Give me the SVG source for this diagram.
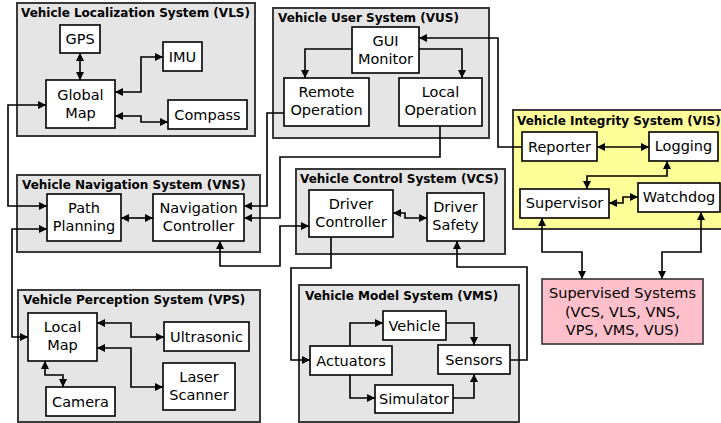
<svg xmlns="http://www.w3.org/2000/svg" width="721" height="423" viewBox="0 0 721 423">
  <style>
    .sys { fill: #e5e5e5; stroke: #3a3a3a; stroke-width: 2; }
    .vis { fill: #ffff99; }
    .box { fill: #ffffff; stroke: #000000; stroke-width: 1.6; }
    .sup { fill: #ffc0cb; stroke: #333333; stroke-width: 1.6; }
    .title { font-family: "DejaVu Sans", sans-serif; font-weight: bold; font-size: 12px; fill: #000; }
    .lbl { font-family: "DejaVu Sans", sans-serif; font-size: 14.5px; fill: #000; text-anchor: middle; }
    .wire { fill: none; stroke: #000; stroke-width: 1.6; }
    .both { marker-start: url(#arrow); marker-end: url(#arrow); }
    .one { marker-end: url(#arrow); }
  </style>
  <defs>
    <marker id="arrow" viewBox="0 0 10 10" refX="10" refY="5" markerWidth="8" markerHeight="8" markerUnits="userSpaceOnUse" orient="auto-start-reverse">
      <path d="M0,0 L10,5 L0,10 z" fill="#000"/>
    </marker>
  </defs>

  <!-- subsystem frames -->
  <g id="vls">
    <rect class="sys" x="17" y="3" width="238" height="133"/>
    <text class="title" x="21" y="17">Vehicle Localization System (VLS)</text>
  </g>
  <g id="vus">
    <rect class="sys" x="273" y="8" width="216" height="130"/>
    <text class="title" x="278" y="22">Vehicle User System (VUS)</text>
  </g>
  <g id="vns">
    <rect class="sys" x="17" y="175" width="243" height="77"/>
    <text class="title" x="22" y="189">Vehicle Navigation System (VNS)</text>
  </g>
  <g id="vcs">
    <rect class="sys" x="296" y="169" width="209" height="85"/>
    <text class="title" x="300" y="183">Vehicle Control System (VCS)</text>
  </g>
  <g id="vis">
    <rect class="sys vis" x="513" y="110" width="220" height="119"/>
    <text class="title" x="517" y="125">Vehicle Integrity System (VIS)</text>
  </g>
  <g id="vps">
    <rect class="sys" x="18" y="290" width="242" height="132"/>
    <text class="title" x="23" y="304">Vehicle Perception System (VPS)</text>
  </g>
  <g id="vms">
    <rect class="sys" x="299" y="285" width="220" height="137"/>
    <text class="title" x="305" y="300">Vehicle Model System (VMS)</text>
  </g>

  <!-- connectors -->
  <g id="connectors">
    <path class="wire both" d="M80,53 V80"/>
    <path class="wire both" d="M115,92 H141 V57 H163"/>
    <path class="wire both" d="M115,116 H141 V122 H168"/>
    <path class="wire both" d="M46,105 H8 V206 H47"/>
    <path class="wire one" d="M352,49 H305 V78"/>
    <path class="wire one" d="M419,49 H462 V78"/>
    <path class="wire one" d="M522,147 H498 V38 H419"/>
    <path class="wire one" d="M284,113 H267 V206 H244"/>
    <path class="wire one" d="M440,126 V157 H280 V218 H244"/>
    <path class="wire both" d="M121,218 H153"/>
    <path class="wire both" d="M220,241 V266 H280 V226 H309"/>
    <path class="wire both" d="M47,229 H12 V337 H28"/>
    <path class="wire both" d="M393,213 H405 V218 H427"/>
    <path class="wire one" d="M331,237 V268 H291 V360 H310"/>
    <path class="wire one" d="M510,360 H527 V267 H457 V241"/>
    <path class="wire both" d="M597,147 H649"/>
    <path class="wire both" d="M667,161 V176 H587 V189"/>
    <path class="wire both" d="M609,203 H623 V197 H638"/>
    <path class="wire both" d="M542,218 V252 H582 V279"/>
    <path class="wire both" d="M701,212 V252 H662 V279"/>
    <path class="wire both" d="M97,323 H131 V337 H164"/>
    <path class="wire both" d="M97,348 H131 V387 H163"/>
    <path class="wire both" d="M45,361 V375 H63 V387"/>
    <path class="wire one" d="M350,346 V323 H383"/>
    <path class="wire one" d="M446,323 H474 V345"/>
    <path class="wire one" d="M350,375 V398 H375"/>
    <path class="wire one" d="M453,398 H474 V374"/>
  </g>

  <!-- VLS nodes -->
  <g id="gps"><rect class="box" x="60" y="25" width="40" height="28"/><text class="lbl" x="80" y="44">GPS</text></g>
  <g id="imu"><rect class="box" x="163" y="42" width="39" height="29"/><text class="lbl" x="182.5" y="62">IMU</text></g>
  <g id="global-map"><rect class="box" x="46" y="80" width="69" height="48"/><text class="lbl" x="80.5" y="100">Global</text><text class="lbl" x="80.5" y="118">Map</text></g>
  <g id="compass"><rect class="box" x="168" y="100" width="79" height="29"/><text class="lbl" x="207.5" y="120">Compass</text></g>

  <!-- VUS nodes -->
  <g id="gui-monitor"><rect class="box" x="352" y="27" width="67" height="46"/><text class="lbl" x="385.5" y="46">GUI</text><text class="lbl" x="385.5" y="64">Monitor</text></g>
  <g id="remote-operation"><rect class="box" x="284" y="78" width="85" height="48"/><text class="lbl" x="326.5" y="97">Remote</text><text class="lbl" x="326.5" y="115">Operation</text></g>
  <g id="local-operation"><rect class="box" x="399" y="78" width="83" height="48"/><text class="lbl" x="440.5" y="97">Local</text><text class="lbl" x="440.5" y="115">Operation</text></g>

  <!-- VNS nodes -->
  <g id="path-planning"><rect class="box" x="47" y="194" width="74" height="47"/><text class="lbl" x="84" y="213">Path</text><text class="lbl" x="84" y="231">Planning</text></g>
  <g id="navigation-controller"><rect class="box" x="153" y="194" width="91" height="47"/><text class="lbl" x="198.5" y="213">Navigation</text><text class="lbl" x="198.5" y="231">Controller</text></g>

  <!-- VCS nodes -->
  <g id="driver-controller"><rect class="box" x="309" y="190" width="84" height="47"/><text class="lbl" x="351" y="209">Driver</text><text class="lbl" x="351" y="227">Controller</text></g>
  <g id="driver-safety"><rect class="box" x="427" y="193" width="57" height="48"/><text class="lbl" x="455.5" y="212">Driver</text><text class="lbl" x="455.5" y="230">Safety</text></g>

  <!-- VIS nodes -->
  <g id="reporter"><rect class="box" x="522" y="132" width="75" height="29"/><text class="lbl" x="559.5" y="152">Reporter</text></g>
  <g id="logging"><rect class="box" x="649" y="132" width="69" height="29"/><text class="lbl" x="683.5" y="151">Logging</text></g>
  <g id="supervisor"><rect class="box" x="520" y="189" width="89" height="29"/><text class="lbl" x="564.5" y="208">Supervisor</text></g>
  <g id="watchdog"><rect class="box" x="638" y="183" width="82" height="29"/><text class="lbl" x="679" y="202">Watchdog</text></g>

  <!-- supervised set -->
  <g id="supervised-systems"><rect class="sup" x="542" y="279" width="161" height="65"/><text class="lbl" x="622.5" y="298">Supervised Systems</text><text class="lbl" x="622.5" y="317">(VCS, VLS, VNS,</text><text class="lbl" x="622.5" y="335">VPS, VMS, VUS)</text></g>

  <!-- VPS nodes -->
  <g id="local-map"><rect class="box" x="28" y="313" width="69" height="48"/><text class="lbl" x="62.5" y="332">Local</text><text class="lbl" x="62.5" y="350">Map</text></g>
  <g id="ultrasonic"><rect class="box" x="164" y="322" width="85" height="29"/><text class="lbl" x="206.5" y="342">Ultrasonic</text></g>
  <g id="laser-scanner"><rect class="box" x="163" y="363" width="72" height="47"/><text class="lbl" x="199" y="382">Laser</text><text class="lbl" x="199" y="400">Scanner</text></g>
  <g id="camera"><rect class="box" x="46" y="387" width="69" height="29"/><text class="lbl" x="80.5" y="407">Camera</text></g>

  <!-- VMS nodes -->
  <g id="vehicle"><rect class="box" x="383" y="311" width="63" height="29"/><text class="lbl" x="414.5" y="331">Vehicle</text></g>
  <g id="actuators"><rect class="box" x="310" y="346" width="82" height="29"/><text class="lbl" x="351" y="366">Actuators</text></g>
  <g id="sensors"><rect class="box" x="438" y="345" width="72" height="29"/><text class="lbl" x="474" y="365">Sensors</text></g>
  <g id="simulator"><rect class="box" x="375" y="385" width="78" height="28"/><text class="lbl" x="414" y="404">Simulator</text></g>
</svg>
